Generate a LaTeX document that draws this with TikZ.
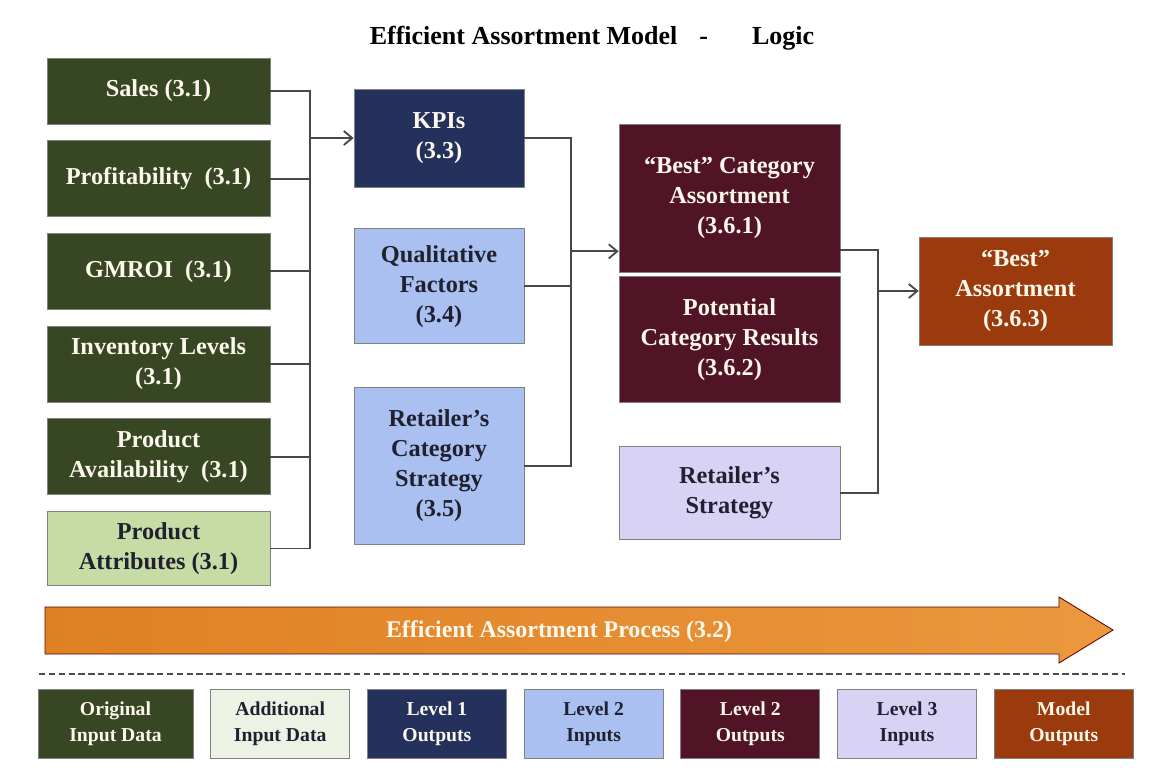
\documentclass[tikz,border=0pt]{standalone}
\usepackage{fontspec}
\setmainfont{Liberation Serif}
\usepackage{xcolor}
\usetikzlibrary{arrows.meta, positioning, shadings}

\definecolor{ingreen}{RGB}{55,70,35}
\definecolor{addgreen}{RGB}{198,220,164}
\definecolor{addpale}{RGB}{236,243,228}
\definecolor{navyout}{RGB}{35,49,92}
\definecolor{bluein}{RGB}{170,192,240}
\definecolor{maroonout}{RGB}{80,20,38}
\definecolor{lavin}{RGB}{216,210,245}
\definecolor{rustout}{RGB}{155,58,12}
\definecolor{orangeL}{RGB}{224,128,36}
\definecolor{orangeR}{RGB}{234,152,62}
\definecolor{boxwhite}{RGB}{252,248,236}
\definecolor{darktext}{RGB}{32,32,48}
\definecolor{linegray}{RGB}{72,72,72}

\begin{document}
\begin{tikzpicture}[
    node distance=0.4cm,
    box/.style={rectangle, draw=black!50, line width=0.5pt, align=center, inner sep=2pt,
                font=\fontsize{17.3}{21.3}\selectfont\bfseries},
    inbox/.style={box, fill=ingreen, text=boxwhite, minimum width=5.575cm, minimum height=1.9cm},
    addbox/.style={box, fill=addgreen, text=darktext, minimum width=5.575cm, minimum height=1.85cm},
    lvlone/.style={box, fill=navyout, text=boxwhite, minimum width=4.25cm, minimum height=2.45cm},
    lvltwoin/.style={box, fill=bluein, text=darktext, minimum width=4.25cm},
    lvltwoout/.style={box, fill=maroonout, text=boxwhite, minimum width=5.525cm},
    lvlthree/.style={box, fill=lavin, text=darktext, minimum width=5.525cm},
    modelbox/.style={box, fill=rustout, text=boxwhite, minimum width=4.825cm, minimum height=2.7cm},
    legend/.style={box, font=\fontsize{14}{18.5}\selectfont\bfseries,
                   minimum width=3.475cm, minimum height=1.725cm},
    link/.style={draw=linegray, line width=1.3pt},
    arr/.style={link, -{Straight Barb[length=6pt, width=10pt, line width=1.3pt]}},
    procarrow/.style={draw=red!40!black, line width=0.6pt, left color=orangeL, right color=orangeR},
    proctext/.style={text=boxwhite, font=\fontsize{17}{21}\selectfont\bfseries},
    sep/.style={draw=black!70, line width=1pt, dash pattern=on 4.5pt off 2.5pt}
]
\useasboundingbox (0,0) rectangle (28.775,-19.275);

\node[font=\fontsize{18.5}{22}\selectfont\bfseries] (title) at (14.8,-0.95)
    {Efficient Assortment Model\hspace{0.55cm}-\hspace{1.1cm}Logic};

\node[inbox, minimum height=1.65cm] (sales) at (3.9625,-2.275) {Sales (3.1)};
\node[inbox, below=of sales] (profit) {Profitability\ \ (3.1)};
\node[inbox, below=of profit] (gmroi) {GMROI\ \ (3.1)};
\node[inbox, below=of gmroi] (inventory) {Inventory Levels\\(3.1)};
\node[inbox, below=of inventory] (avail) {Product\\Availability\ \ (3.1)};
\node[addbox, below=of avail] (attrib) {Product\\Attributes (3.1)};

\node[lvlone] (kpi) at (10.975,-3.45) {KPIs\\(3.3)};
\node[lvltwoin, below=1.025cm of kpi, minimum height=2.875cm] (qual) {Qualitative\\Factors\\(3.4)};
\node[lvltwoin, below=1.075cm of qual, minimum height=3.925cm] (catstrat) {Retailer’s\\Category\\Strategy\\(3.5)};

\node[lvltwoout, minimum height=3.7cm] (bestcat) at (18.2375,-4.95) {“Best” Category\\Assortment\\(3.6.1)};
\node[lvltwoout, below=0.1cm of bestcat, minimum height=3.15cm] (potential) {Potential\\Category Results\\(3.6.2)};
\node[lvlthree, below=1.075cm of potential, minimum height=2.325cm] (retstrat) {Retailer’s\\Strategy};

\node[modelbox] (bestall) at (25.3875,-7.275) {“Best”\\Assortment\\(3.6.3)};

\coordinate (bus1) at (7.75,0);
\draw[link] (sales.east) -| (bus1 |- attrib.east) -- (attrib.east);
\foreach \n in {profit, gmroi, inventory, avail}
    \draw[link] (\n.east) -- (bus1 |- \n.east);
\draw[arr] (bus1 |- kpi.west) -- (kpi.west);

\coordinate (bus2) at (14.275,0);
\coordinate (bestin) at ([yshift=0.525cm]bestcat.south west);
\draw[link] (kpi.east) -| (bus2 |- catstrat.east) -- (catstrat.east);
\draw[link] (qual.east) -- (bus2 |- qual.east);
\draw[arr] (bus2 |- bestin) -- (bestin);

\coordinate (bus3) at (21.95,0);
\coordinate (bestout) at ([yshift=0.55cm]bestcat.south east);
\draw[link] (bestout) -| (bus3 |- retstrat.east) -- (retstrat.east);
\draw[arr] (bus3 |- bestall.west) -- (bestall.west);

\draw[procarrow] (1.125,-15.175) -- (26.475,-15.175) -- (26.475,-14.925) -- (27.825,-15.75)
    -- (26.475,-16.575) -- (26.475,-16.35) -- (1.125,-16.35) -- cycle;
\node[proctext] (process) at (13.975,-15.8) {Efficient Assortment Process (3.2)};

\draw[sep] (0.975,-16.85) -- (28.125,-16.85);

\node[legend, fill=ingreen, text=boxwhite, minimum width=3.875cm] (lgorig) at (2.8875,-18.0875) {Original\\Input Data};
\node[legend, fill=addpale, text=darktext, right=0.425cm of lgorig] (lgadd) {Additional\\Input Data};
\node[legend, fill=navyout, text=boxwhite, right=0.425cm of lgadd] (lgone) {Level 1\\Outputs};
\node[legend, fill=bluein, text=darktext, right=0.425cm of lgone] (lgtwoin) {Level 2\\Inputs};
\node[legend, fill=maroonout, text=boxwhite, right=0.425cm of lgtwoin] (lgtwoout) {Level 2\\Outputs};
\node[legend, fill=lavin, text=darktext, right=0.425cm of lgtwoout] (lgthree) {Level 3\\Inputs};
\node[legend, fill=rustout, text=boxwhite, right=0.425cm of lgthree] (lgmodel) {Model\\Outputs};
\end{tikzpicture}
\end{document}
